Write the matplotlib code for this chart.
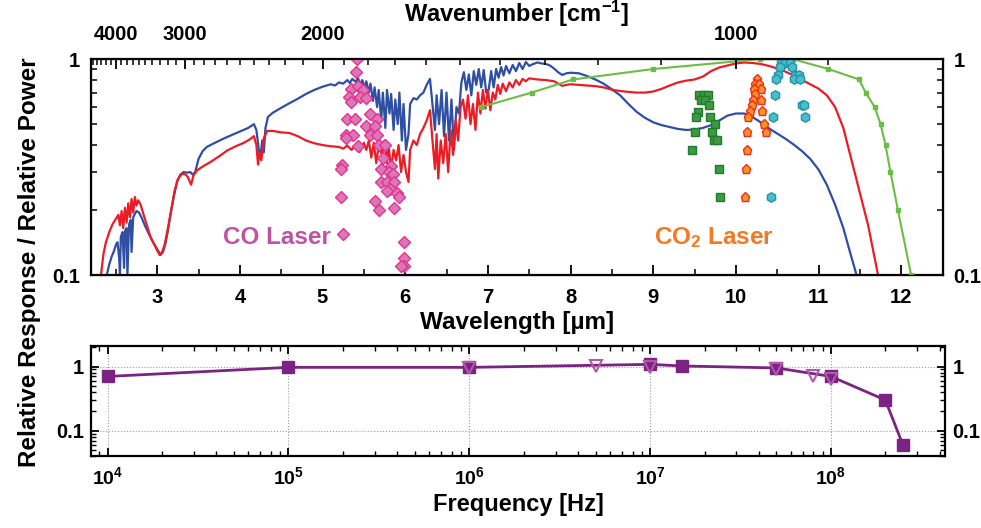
"""
Detector spectral response (top) and frequency response (bottom).
"""
import numpy as np
import matplotlib
matplotlib.use("Agg")
import matplotlib.pyplot as plt
from matplotlib.ticker import FixedLocator, NullFormatter, FixedFormatter, LogLocator

plt.rcParams['font.family'] = ['Liberation Sans', 'DejaVu Sans']
plt.rcParams['font.weight'] = 'bold'
plt.rcParams['mathtext.default'] = 'regular'

# ---- spectra (wavelength in um, relative response) ----
blue_wl = [2.39, 2.42, 2.45, 2.48, 2.50, 2.52, 2.54, 2.55, 2.56, 2.58, 2.60, 2.61, 2.63, 2.64, 2.66,
           2.68, 2.69, 2.71, 2.73, 2.75, 2.78, 2.81, 2.85, 2.90, 2.95, 3.00, 3.04, 3.07, 3.10, 3.13,
           3.16, 3.20, 3.24, 3.28, 3.32, 3.36, 3.40, 3.43, 3.46, 3.50, 3.55, 3.60, 3.70, 3.80, 3.90,
           4.00, 4.10, 4.17, 4.20, 4.23, 4.25, 4.27, 4.29, 4.31, 4.34, 4.40, 4.50, 4.60, 4.70, 4.80,
           4.90, 5.00, 5.10, 5.15, 5.20, 5.25, 5.30, 5.33, 5.36, 5.40, 5.43, 5.46, 5.48, 5.51, 5.53,
           5.56, 5.58, 5.61, 5.63, 5.66, 5.68, 5.71, 5.73, 5.76, 5.78, 5.81, 5.83, 5.86, 5.88, 5.91,
           5.93, 5.96, 5.98, 6.01, 6.04, 6.06, 6.10, 6.14, 6.18, 6.22, 6.26, 6.30, 6.33, 6.36, 6.38,
           6.41, 6.44, 6.47, 6.50, 6.53, 6.56, 6.59, 6.62, 6.65, 6.68, 6.71, 6.74, 6.77, 6.80, 6.83,
           6.86, 6.89, 6.92, 6.95, 6.98, 7.01, 7.04, 7.07, 7.10, 7.13, 7.16, 7.19, 7.22, 7.26, 7.30,
           7.34, 7.38, 7.42, 7.46, 7.50, 7.55, 7.60, 7.65, 7.70, 7.75, 7.80, 7.85, 7.90, 7.95, 8.00,
           8.10, 8.20, 8.30, 8.40, 8.50, 8.60, 8.70, 8.80, 8.90, 9.00, 9.10, 9.20, 9.30, 9.40, 9.50,
           9.60, 9.70, 9.80, 9.90, 10.00, 10.10, 10.20, 10.30, 10.40, 10.50, 10.60, 10.70, 10.80,
           10.90, 11.00, 11.10, 11.20, 11.30, 11.38, 11.46]
blue_val = [0.100, 0.112, 0.122, 0.130, 0.138, 0.142, 0.120, 0.100, 0.150, 0.158, 0.108, 0.160, 0.165, 0.100, 0.172,
            0.180, 0.128, 0.185, 0.192, 0.198, 0.195, 0.185, 0.170, 0.155, 0.142, 0.132, 0.124, 0.128, 0.140, 0.160,
            0.190, 0.230, 0.270, 0.292, 0.300, 0.298, 0.300, 0.292, 0.300, 0.345, 0.375, 0.392, 0.410, 0.428, 0.445,
            0.462, 0.480, 0.500, 0.470, 0.380, 0.350, 0.420, 0.370, 0.480, 0.540, 0.565, 0.595, 0.625, 0.655, 0.690,
            0.720, 0.745, 0.765, 0.755, 0.780, 0.770, 0.800, 0.775, 0.810, 0.785, 0.815, 0.760, 0.800, 0.740, 0.790,
            0.700, 0.770, 0.640, 0.740, 0.600, 0.720, 0.520, 0.700, 0.480, 0.720, 0.560, 0.690, 0.470, 0.650, 0.500,
            0.700, 0.420, 0.620, 0.380, 0.450, 0.620, 0.660, 0.650, 0.680, 0.700, 0.760, 0.810, 0.620, 0.470, 0.680,
            0.500, 0.720, 0.440, 0.700, 0.420, 0.650, 0.380, 0.600, 0.560, 0.780, 0.870, 0.720, 0.850, 0.680, 0.880,
            0.760, 0.900, 0.740, 0.890, 0.700, 0.720, 0.880, 0.740, 0.900, 0.820, 0.920, 0.840, 0.930, 0.860, 0.940,
            0.880, 0.960, 0.900, 0.970, 0.930, 0.950, 0.965, 0.955, 0.950, 0.935, 0.905, 0.870, 0.845, 0.860, 0.865,
            0.860, 0.835, 0.805, 0.770, 0.725, 0.680, 0.620, 0.570, 0.535, 0.510, 0.495, 0.485, 0.475, 0.470, 0.472,
            0.480, 0.495, 0.520, 0.548, 0.560, 0.560, 0.540, 0.510, 0.478, 0.452, 0.428, 0.402, 0.375,
            0.345, 0.308, 0.262, 0.212, 0.165, 0.128, 0.100]

red_wl = [2.32, 2.35, 2.38, 2.42, 2.46, 2.50, 2.53, 2.55, 2.57, 2.59, 2.61, 2.63, 2.65, 2.67, 2.69,
          2.71, 2.73, 2.75, 2.77, 2.80, 2.84, 2.88, 2.92, 2.96, 3.00, 3.03, 3.06, 3.09, 3.13, 3.17,
          3.21, 3.25, 3.29, 3.33, 3.37, 3.41, 3.44, 3.48, 3.55, 3.65, 3.75, 3.85, 3.95, 4.05, 4.12,
          4.17, 4.20, 4.22, 4.24, 4.26, 4.29, 4.33, 4.40, 4.50, 4.60, 4.70, 4.80, 4.90, 5.00, 5.10,
          5.20, 5.25, 5.30, 5.35, 5.40, 5.45, 5.50, 5.53, 5.56, 5.59, 5.62, 5.65, 5.68, 5.72, 5.75,
          5.78, 5.80, 5.83, 5.86, 5.89, 5.92, 5.95, 5.98, 6.01, 6.04, 6.06, 6.10, 6.14, 6.18, 6.22,
          6.26, 6.30, 6.33, 6.36, 6.38, 6.40, 6.43, 6.46, 6.49, 6.52, 6.55, 6.58, 6.61, 6.64, 6.67,
          6.70, 6.73, 6.76, 6.79, 6.82, 6.85, 6.88, 6.91, 6.94, 6.97, 7.00, 7.03, 7.06, 7.09, 7.12,
          7.15, 7.18, 7.22, 7.26, 7.30, 7.34, 7.38, 7.42, 7.46, 7.50, 7.60, 7.70, 7.80, 7.85, 7.90,
          7.95, 8.00, 8.10, 8.20, 8.30, 8.40, 8.50, 8.60, 8.70, 8.80, 8.90, 9.00, 9.10, 9.20, 9.30,
          9.40, 9.50, 9.60, 9.70, 9.80, 9.90, 10.00, 10.10, 10.20, 10.30, 10.40, 10.50, 10.60, 10.70,
          10.80, 10.90, 11.00, 11.10, 11.20, 11.30, 11.40, 11.50, 11.60, 11.72]
red_val = [0.100, 0.125, 0.142, 0.158, 0.172, 0.182, 0.190, 0.170, 0.198, 0.165, 0.205, 0.175, 0.215, 0.185, 0.225,
           0.195, 0.230, 0.210, 0.222, 0.212, 0.188, 0.168, 0.150, 0.140, 0.130, 0.124, 0.128, 0.138, 0.165, 0.200,
           0.245, 0.278, 0.292, 0.295, 0.285, 0.262, 0.290, 0.305, 0.318, 0.335, 0.355, 0.378, 0.395, 0.410, 0.425,
           0.440, 0.400, 0.325, 0.370, 0.340, 0.430, 0.465, 0.465, 0.458, 0.455, 0.440, 0.420, 0.408, 0.400, 0.395,
           0.392, 0.385, 0.398, 0.380, 0.400, 0.372, 0.410, 0.380, 0.420, 0.350, 0.410, 0.330, 0.400, 0.360, 0.420,
           0.330, 0.395, 0.310, 0.380, 0.340, 0.400, 0.300, 0.360, 0.300, 0.270, 0.380, 0.420, 0.400, 0.450, 0.480,
           0.520, 0.580, 0.420, 0.310, 0.450, 0.280, 0.420, 0.330, 0.450, 0.300, 0.470, 0.360, 0.520, 0.420, 0.600,
           0.650, 0.530, 0.680, 0.500, 0.620, 0.470, 0.700, 0.560, 0.720, 0.590, 0.720, 0.580, 0.700, 0.650, 0.760,
           0.690, 0.770, 0.710, 0.780, 0.740, 0.800, 0.760, 0.810, 0.790, 0.815, 0.805, 0.800, 0.790, 0.770, 0.752,
           0.760, 0.765, 0.760, 0.755, 0.750, 0.740, 0.722, 0.712, 0.705, 0.700, 0.700, 0.708, 0.728, 0.755, 0.780,
           0.795, 0.805, 0.830, 0.880, 0.915, 0.935, 0.955, 0.965, 0.960, 0.950, 0.930, 0.905, 0.875, 0.840,
           0.800, 0.765, 0.730, 0.680, 0.600, 0.480, 0.340, 0.240, 0.170, 0.100]

green_wl = [6.92, 7.53, 8.03, 9.00, 10.29, 10.69, 11.12, 11.49, 11.57, 11.68, 11.75, 11.81, 11.87, 11.96, 12.12]
green_val = [0.60, 0.70, 0.805, 0.90, 1.00, 1.00, 0.90, 0.805, 0.70, 0.60, 0.50, 0.40, 0.30, 0.20, 0.10]

# ---- laser lines ----
co_wl = [5.42, 5.40, 5.34, 5.32, 5.35, 5.43, 5.49, 5.45, 5.52, 5.30, 5.39, 5.58, 5.66, 5.53, 5.63,
         5.57, 5.66, 5.28, 5.37, 5.43, 5.28, 5.68, 5.75, 5.73, 5.24, 5.22, 5.71, 5.83, 5.80, 5.85,
         5.71, 5.78, 5.87, 5.82, 5.78, 5.90, 5.93, 5.22, 5.63, 5.68, 5.86, 5.25, 5.98, 5.99, 5.99, 5.95]
co_val = [1.00, 0.875, 0.73, 0.665, 0.63, 0.75, 0.716, 0.665, 0.66, 0.53, 0.53, 0.56, 0.53, 0.49, 0.49,
          0.445, 0.445, 0.445, 0.445, 0.395, 0.43, 0.40, 0.40, 0.35, 0.325, 0.31, 0.31, 0.32, 0.30, 0.295,
          0.27, 0.27, 0.27, 0.25, 0.245, 0.24, 0.23, 0.23, 0.22, 0.20, 0.205, 0.155, 0.142, 0.12, 0.11, 0.11]

co2_a_wl = [9.56, 9.61, 9.66, 9.58, 9.63, 9.67, 9.54, 9.52, 9.69, 9.75, 9.50, 9.71, 9.73, 9.77, 9.47, 9.79, 9.81]
co2_a_val = [0.685, 0.685, 0.685, 0.65, 0.65, 0.61, 0.57, 0.54, 0.54, 0.50, 0.46, 0.46, 0.42, 0.42, 0.38, 0.31, 0.23]

co2_b_wl = [10.25, 10.23, 10.28, 10.30, 10.22, 10.23, 10.21, 10.31, 10.19, 10.17, 10.32, 10.15, 10.34,
            10.14, 10.36, 10.13, 10.12, 10.11]
co2_b_val = [0.805, 0.77, 0.77, 0.73, 0.73, 0.69, 0.65, 0.65, 0.615, 0.575, 0.575, 0.54, 0.50,
             0.46, 0.46, 0.38, 0.31, 0.23]

co2_c_wl = [10.56, 10.59, 10.62, 10.54, 10.60, 10.65, 10.68, 10.53, 10.71, 10.76, 10.51, 10.49, 10.70,
            10.77, 10.47, 10.80, 10.82, 10.45, 10.84, 10.43]
co2_c_val = [1.0, 1.0, 1.0, 0.955, 0.96, 0.955, 0.92, 0.92, 0.845, 0.845, 0.845, 0.805, 0.805,
             0.805, 0.685, 0.615, 0.615, 0.54, 0.54, 0.23]

# ---- frequency response ----
freq_sq = [1e4, 1e5, 1e6, 1e7, 1.5e7, 5e7, 1e8, 2e8, 2.5e8]
resp_sq = [0.70, 0.97, 0.97, 1.08, 1.02, 0.95, 0.70, 0.30, 0.06]
freq_tri = [1e6, 5e6, 1e7, 5e7, 8e7, 1e8]
resp_tri = [0.95, 1.02, 0.97, 0.90, 0.72, 0.65]

wavenumber_major = [4000, 3000, 2000, 1000]

BLUE = "#2e4fa3"
RED = "#ec1c24"
GREEN = "#6cbd45"
PURPLE = "#7b2383"
NARROW = ['Liberation Sans Narrow', 'Liberation Sans', 'DejaVu Sans']

fig = plt.figure(figsize=(9.81, 5.28), dpi=100)
ax = fig.add_axes([0.0928, 0.479, 0.868, 0.409])

ax.plot(blue_wl, blue_val, color=BLUE, lw=1.6, zorder=2)
ax.plot(red_wl, red_val, color=RED, lw=1.6, zorder=2)
ax.plot(green_wl, green_val, color=GREEN, lw=1.5, marker='s', ms=3, zorder=3)
ax.plot(co_wl, co_val, ls='none', marker='D', ms=6.3, mfc="#d878b8", mec="#e8308c", mew=1, zorder=4)
ax.plot(co2_a_wl, co2_a_val, ls='none', marker='s', ms=5.5, mfc="#3d9a3f", mec="#207a30", mew=1, zorder=4)
ax.plot(co2_b_wl, co2_b_val, ls='none', marker='p', ms=6.8, mfc="#f7931e", mec="#ee2d24", mew=1, zorder=4)
ax.plot(co2_c_wl, co2_c_val, ls='none', marker='h', ms=6.8, mfc="#4cbccb", mec="#1f95a8", mew=1, zorder=4)

ax.set_yscale('log')
ax.set_xlim(2.2, 12.5)
ax.set_ylim(0.1, 1)
ax.set_yticks([0.1, 1])
ax.set_yticklabels(['0.1', '1'])
ax.yaxis.set_minor_locator(LogLocator(base=10, subs=np.arange(2, 10)))
ax.yaxis.set_minor_formatter(NullFormatter())
ax.set_xticks(np.arange(3, 13))
ax.xaxis.set_minor_locator(FixedLocator(np.arange(2.5, 12.5, 1.0)))
ax.tick_params(axis='both', which='both', direction='in', labelsize=14.5)
ax.tick_params(axis='y', which='both', right=True, labelright=True, pad=8)
ax.tick_params(axis='x', which='both', top=False, pad=9)
ax.tick_params(which='major', length=7, width=1.3)
ax.tick_params(which='minor', length=4, width=1.1)
for s in ax.spines.values():
    s.set_linewidth(1.6)
ax.set_xlabel('Wavelength [µm]', fontsize=17.5, fontweight='bold', labelpad=3)

ax.text(4.45, 0.15, 'CO Laser', color="#c052a6", fontsize=17.5, fontweight='bold', ha='center', va='center')
ax.text(9.73, 0.15, r'CO$_2$ Laser', color="#f47920", fontsize=17.5, fontweight='bold', ha='center', va='center')

# wavenumber axis on top
top = ax.twiny()
top.set_xlim(ax.get_xlim())
top.set_xticks([1e4 / w for w in wavenumber_major])
top.set_xticklabels([str(w) for w in wavenumber_major])
minor_wn = [w for w in range(900, 4600, 100) if w not in wavenumber_major]
top.xaxis.set_minor_locator(FixedLocator([1e4 / w for w in minor_wn]))
top.tick_params(axis='x', which='both', direction='in', labelsize=14.5, pad=11)
top.tick_params(which='major', length=7, width=1.3)
top.tick_params(which='minor', length=4, width=1.1)
top.set_xlabel(r'Wavenumber [cm$^{-1}$]', fontsize=17, fontweight='bold', labelpad=2)

# frequency response panel
bx = fig.add_axes([0.0928, 0.136, 0.871, 0.209])
bx.plot(freq_sq, resp_sq, color=PURPLE, lw=2, marker='s', ms=9, zorder=3)
bx.plot(freq_tri, resp_tri, ls='none', marker='v', ms=9, mfc='none', mec="#b459a8", mew=1.5, zorder=4)
bx.set_xscale('log')
bx.set_yscale('log')
bx.set_xlim(8.1e3, 4.3e8)
bx.set_ylim(0.04, 2.1)
bx.set_xticks([1e4, 1e5, 1e6, 1e7, 1e8])
bx.xaxis.set_major_formatter(FixedFormatter([r'$10^{4}$', r'$10^{5}$', r'$10^{6}$', r'$10^{7}$', r'$10^{8}$']))
bx.xaxis.set_minor_locator(LogLocator(base=10, subs=np.arange(2, 10)))
bx.xaxis.set_minor_formatter(NullFormatter())
bx.set_yticks([0.1, 1])
bx.set_yticklabels(['0.1', '1'])
bx.yaxis.set_minor_locator(LogLocator(base=10, subs=np.arange(2, 10)))
bx.yaxis.set_minor_formatter(NullFormatter())
bx.grid(which='major', color='#999999', ls=':', lw=0.8)
bx.tick_params(axis='both', which='both', direction='in', top=True, right=True, labelright=True)
bx.tick_params(axis='y', pad=5, labelsize=14.5)
bx.tick_params(axis='x', pad=7)
bx.tick_params(which='major', length=6, width=1.3)
bx.tick_params(which='minor', length=3.5, width=1.0)
for lbl in bx.get_xticklabels():
    lbl.set_fontsize(14)
    lbl.set_family(NARROW)
for s in bx.spines.values():
    s.set_linewidth(1.6)
bx.set_xlabel('Frequency [Hz]', fontsize=17, fontweight='bold', labelpad=4)

fig.text(0.030, 0.504, 'Relative Response / Relative Power', rotation=90, fontsize=17.5,
         fontweight='bold', ha='center', va='center')

fig.savefig('out.png', dpi=100)
